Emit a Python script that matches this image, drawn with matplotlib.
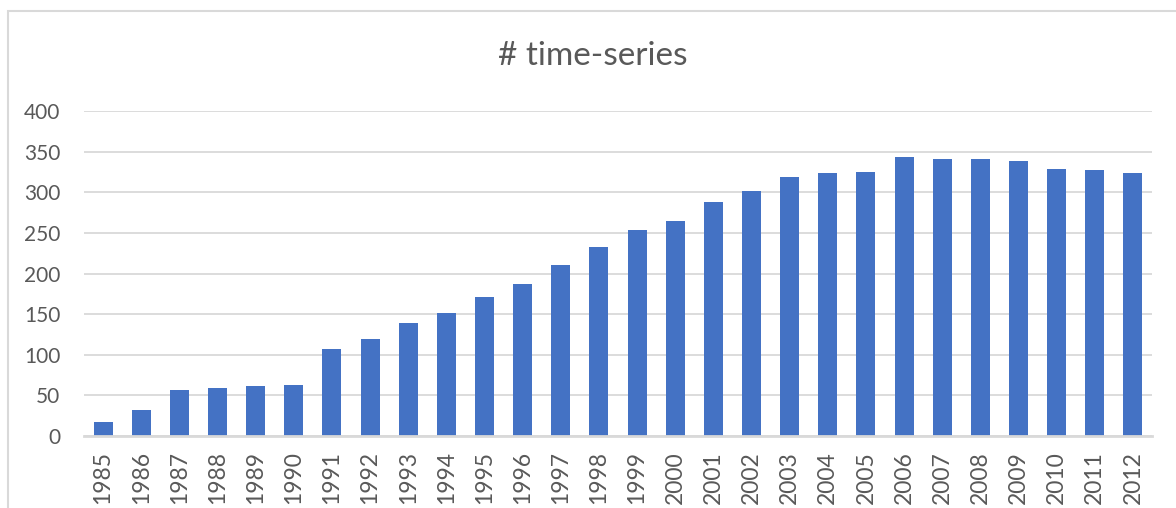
import matplotlib
matplotlib.use("Agg")
import matplotlib.pyplot as plt
from matplotlib.patches import Rectangle

years = [str(y) for y in range(1985, 2013)]
counts = [17, 32, 57, 59, 62, 63, 107, 120, 139, 151, 171, 187, 210, 233,
          254, 265, 288, 301, 319, 324, 325, 343, 341, 341, 339, 329, 327, 324]
yticks = [0, 50, 100, 150, 200, 250, 300, 350, 400]

plt.rcParams['font.family'] = ['Lato', 'DejaVu Sans']
text_color = '#595959'
grid_color = '#d9d9d9'

fig = plt.figure(figsize=(11.76, 5.08), dpi=100)
# chart frame, cut off at the right and bottom like the screenshot
fig.patches.append(Rectangle((7.5 / 1176, -0.1), 1.2, 497 / 508 + 0.1,
                             transform=fig.transFigure, fill=False,
                             edgecolor=grid_color, linewidth=1.5))

ax = fig.add_axes([84 / 1176, 72 / 508, 1068 / 1176, 325 / 508])
ax.bar(years, counts, width=0.5, color='#4472C4', zorder=3)

ax.set_ylim(0, 400)
ax.set_yticks(yticks)
ax.set_xlim(-0.5, len(years) - 0.5)
ax.yaxis.grid(True, color=grid_color, linewidth=1.3, zorder=0)
for side in ['top', 'right', 'left']:
    ax.spines[side].set_visible(False)
ax.spines['bottom'].set_color(grid_color)
ax.spines['bottom'].set_linewidth(2)
ax.spines['bottom'].set_zorder(4)
ax.tick_params(axis='both', length=0, colors=text_color)
ax.tick_params(axis='y', pad=17, labelsize=15)
ax.tick_params(axis='x', pad=11, labelsize=16.5, labelrotation=90)

fig.text(593 / 1176, 1 - 56 / 508, '# time-series', ha='center', va='center',
         fontsize=24, color=text_color)

fig.savefig('out.png', dpi=100)
